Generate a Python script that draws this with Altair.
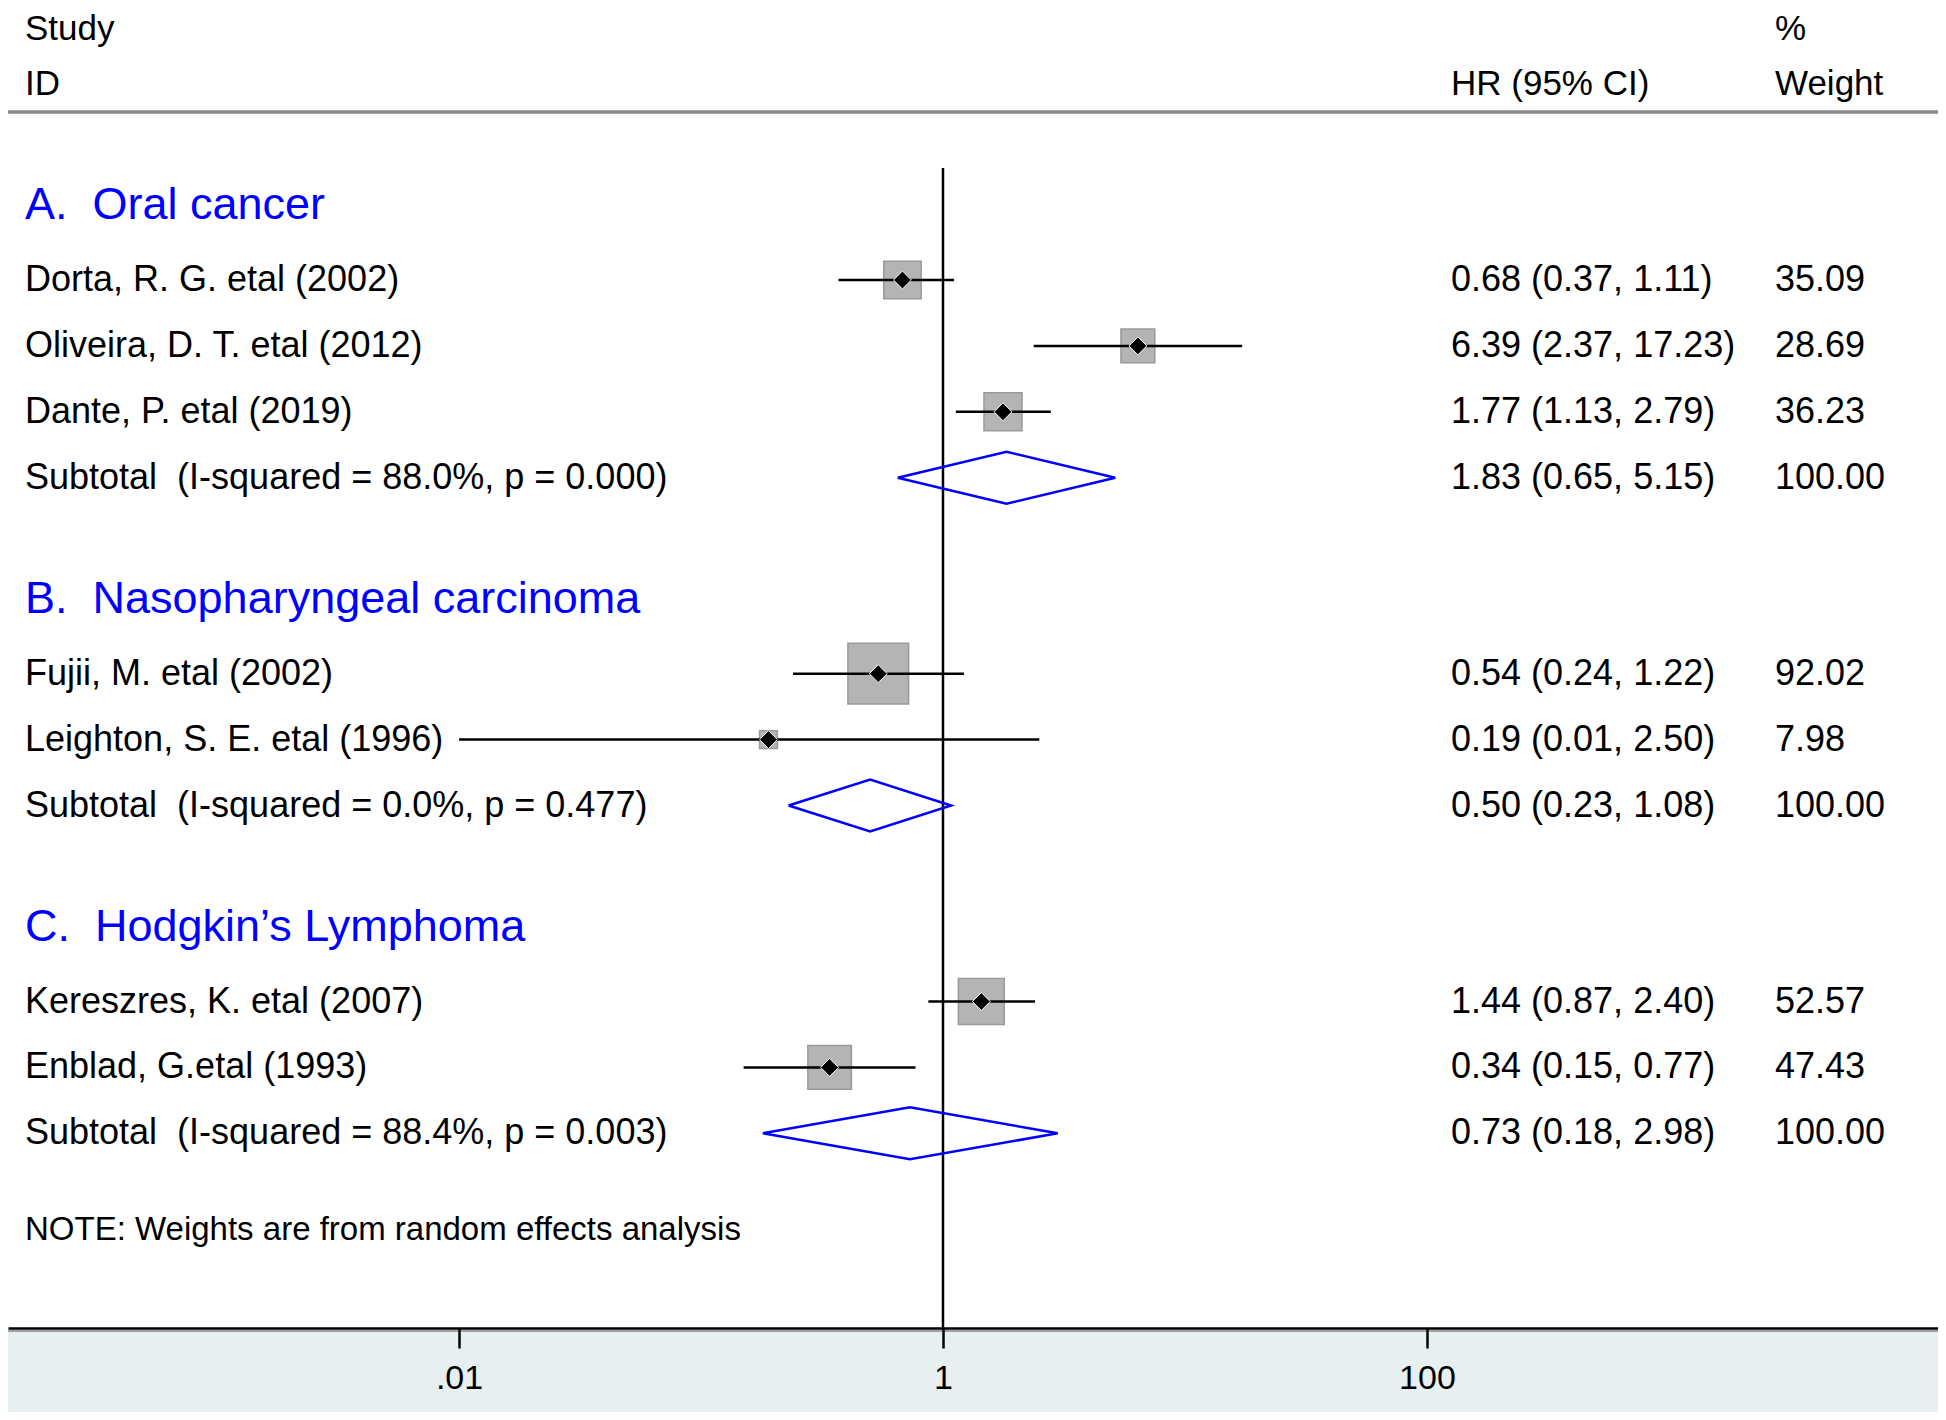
import altair as alt
import pandas as pd

# ---------------- data ----------------
groups = ["A.\u00a0 Oral cancer", "B.\u00a0 Nasopharyngeal carcinoma", "C.\u00a0 Hodgkin\u2019s Lymphoma"]

study_names = [
    "Dorta, R. G. etal (2002)",
    "Oliveira, D. T. etal (2012)",
    "Dante, P. etal (2019)",
    "Fujii, M. etal (2002)",
    "Leighton, S. E. etal (1996)",
    "Kereszres, K. etal (2007)",
    "Enblad, G.etal (1993)",
]
study_group = [0, 0, 0, 1, 1, 2, 2]
study_hr = [0.68, 6.39, 1.77, 0.54, 0.19, 1.44, 0.34]
study_lo = [0.37, 2.37, 1.13, 0.24, 0.01, 0.87, 0.15]
study_hi = [1.11, 17.23, 2.79, 1.22, 2.50, 2.40, 0.77]
study_weight = [35.09, 28.69, 36.23, 92.02, 7.98, 52.57, 47.43]

sub_labels = [
    "Subtotal\u00a0 (I-squared = 88.0%, p = 0.000)",
    "Subtotal\u00a0 (I-squared = 0.0%, p = 0.477)",
    "Subtotal\u00a0 (I-squared = 88.4%, p = 0.003)",
]
sub_hr = [1.83, 0.50, 0.73]
sub_lo = [0.65, 0.23, 0.18]
sub_hi = [5.15, 1.08, 2.98]
sub_weight = [100.00, 100.00, 100.00]

note_text = "NOTE: Weights are from random effects analysis"
tick_values = [0.01, 1, 100]

# ---------------- layout (row positions, in chart pixels from top) ----------------
W, H, BOTTOM, TOP = 1930, 1320, 84, 4
PITCH, HEAD_GAP, GROUP_GAP, NOTE_GAP = 65.9, 75, 121, 97
FONT = "Liberation Sans"

header_rows, study_rows, sub_rows = [], [], []
cur = 197
for g, gname in enumerate(groups):
    header_rows.append({"label": gname, "y": cur})
    first = cur + HEAD_GAP
    idx = [i for i, sg in enumerate(study_group) if sg == g]
    for k, i in enumerate(idx):
        study_rows.append({
            "label": study_names[i], "y": first + k * PITCH,
            "hr": study_hr[i], "lo": study_lo[i], "hi": study_hi[i], "w": study_weight[i],
            "ci": f"{study_hr[i]:.2f} ({study_lo[i]:.2f}, {study_hi[i]:.2f})",
            "wt": f"{study_weight[i]:.2f}",
        })
    sy = first + len(idx) * PITCH
    sub_rows.append({
        "label": sub_labels[g], "y": sy, "hr": sub_hr[g], "lo": sub_lo[g], "hi": sub_hi[g],
        "w": 0.0,
        "ci": f"{sub_hr[g]:.2f} ({sub_lo[g]:.2f}, {sub_hi[g]:.2f})",
        "wt": f"{sub_weight[g]:.2f}",
    })
    cur = sy + GROUP_GAP
note_y = sub_rows[-1]["y"] + NOTE_GAP

df_head = pd.DataFrame(header_rows)
df_study = pd.DataFrame(study_rows)
df_sub = pd.DataFrame(sub_rows)
df_rows = pd.concat([df_study, df_sub], ignore_index=True)

# diamond vertices for subtotals
HALF = 26
dia = []
for g, r in enumerate(sub_rows):
    pts = [(r["lo"], r["y"]), (r["hr"], r["y"] - HALF), (r["hi"], r["y"]),
           (r["hr"], r["y"] + HALF), (r["lo"], r["y"])]
    for k, (xv, yv) in enumerate(pts):
        dia.append({"g": g, "o": k, "x": xv, "y": yv})
df_dia = pd.DataFrame(dia)

LOG_LEFT, LOG_RIGHT = -3.864, 4.112
xscale = alt.Scale(type="log", domain=[10 ** LOG_LEFT, 10 ** LOG_RIGHT], nice=False)
# plot area starts TOP px below the canvas top; data y = canvas pixel
yscale = alt.Scale(domain=[TOP, H], reverse=True, nice=False, zero=False)

xaxis = alt.Axis(values=tick_values, grid=False, domain=True, domainColor="black",
                 domainWidth=2.5, ticks=True, tickColor="black", tickWidth=2.5, tickSize=20,
                 labelFont=FONT, labelFontSize=34, labelColor="black", labelPadding=13,
                 labelFlush=False, zindex=1, title=None,
                 labelExpr="datum.value < 1 ? slice(format(datum.value, '~g'), 1) : format(datum.value, '~g')")


def X(f):
    return alt.X(f, type="quantitative", scale=xscale, axis=xaxis, title=None)


def Y(f):
    return alt.Y(f, type="quantitative", scale=yscale, axis=None)


one = pd.DataFrame({"a": [0]})
PH = H - TOP  # plot-area height

# bottom band (under axis)
band = alt.Chart(one).mark_rect(color="#e8eff1").encode(
    x=alt.value(0), x2=alt.value(W), y=alt.value(PH + 1), y2=alt.value(PH + BOTTOM)
)
band_line = alt.Chart(one).mark_rule(color="#a0a0a0", strokeWidth=2).encode(
    x=alt.value(0), x2=alt.value(W), y=alt.value(PH + 3)
)

# vertical reference line at HR = 1
ref_df = pd.DataFrame({"v": [1.0], "y1": [160.0], "y2": [float(H)]})
refline = alt.Chart(ref_df).mark_rule(color="black", strokeWidth=2.5).encode(
    x=X("v"), y=Y("y1"), y2="y2:Q",
)

# top separator
sep_df = pd.DataFrame({"y": [104.0]})
sep = alt.Chart(sep_df).mark_rule(color="#8c8c8c", strokeWidth=3.5).encode(
    x=alt.value(0), x2=alt.value(W), y=Y("y")
)

squares = alt.Chart(df_study).mark_square(color="#b4b4b4", opacity=1, stroke="#9a9a9a", strokeWidth=1.5).encode(
    x=X("hr"), y=Y("y"),
    size=alt.Size("w:Q", scale=alt.Scale(domain=[0, 100], range=[0, 4000], zero=True), legend=None),
)
ci = alt.Chart(df_study).mark_rule(color="black", strokeWidth=2.5).encode(
    x=X("lo"), x2="hi:Q", y=Y("y")
)
pts = alt.Chart(df_study).mark_point(shape="diamond", filled=True, color="black", size=320,
                                     stroke="white", strokeWidth=1, opacity=1).encode(
    x=X("hr"), y=Y("y")
)
diamonds = alt.Chart(df_dia).mark_line(color="#0000ff", strokeWidth=2.5).encode(
    x=X("x"), y=Y("y"), detail="g:N", order="o:Q"
)


def text_layer(df, field, xpx, size, color="black"):
    return alt.Chart(df).mark_text(align="left", baseline="middle", font=FONT,
                                   fontSize=size, color=color).encode(
        x=alt.value(xpx), y=Y("y"), text=alt.Text(f"{field}:N")
    )


col_left = pd.DataFrame({"t": ["Study", "ID"], "y": [21.0, 76.0]})
col_ci = pd.DataFrame({"t": ["HR (95% CI)"], "y": [76.0]})
col_wt = pd.DataFrame({"t": ["%", "Weight"], "y": [21.0, 76.0]})
note_df = pd.DataFrame({"t": [note_text], "y": [note_y]})

layers = [
    band, band_line, refline, sep, squares, ci, pts, diamonds,
    text_layer(col_left, "t", 17, 35),
    text_layer(col_ci, "t", 1443, 35),
    text_layer(col_wt, "t", 1767, 35),
    text_layer(df_head, "label", 17, 45, "#0000ff"),
    text_layer(df_rows, "label", 17, 36),
    text_layer(df_rows, "ci", 1443, 36),
    text_layer(df_rows, "wt", 1767, 36),
    text_layer(note_df, "t", 17, 33),
]

chart = alt.layer(*layers).properties(
    width=W, height=PH,
    autosize=alt.AutoSizeParams(type="none"),
    padding={"left": 0, "top": TOP, "right": 0, "bottom": BOTTOM},
    background="white",
).configure_view(stroke=None)

chart.save("out.html", embed_options={"renderer": "svg", "actions": False})
